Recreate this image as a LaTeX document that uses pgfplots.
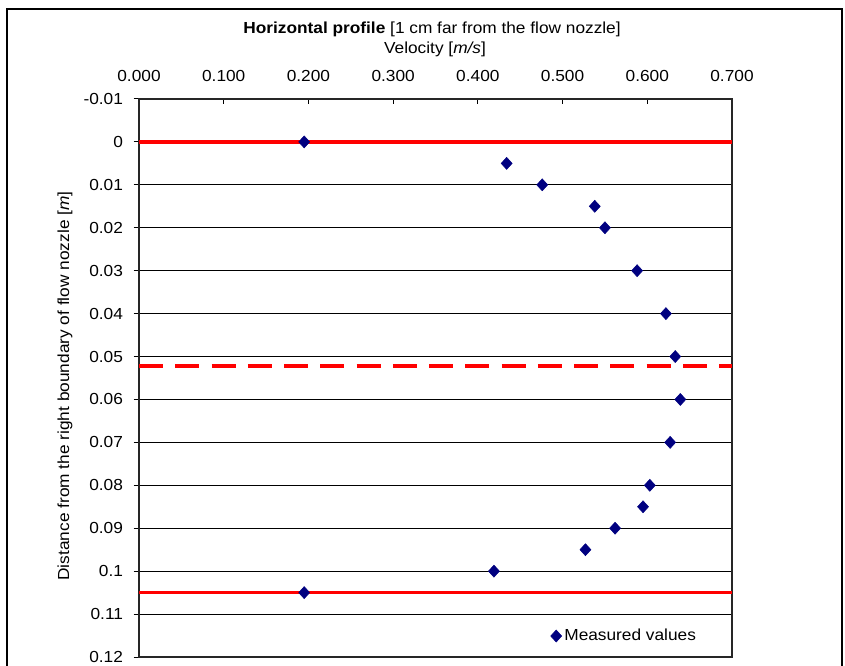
\documentclass[border=0pt]{standalone}
\usepackage{pgfplots}
\pgfplotsset{compat=1.18}
\usepackage{fontspec}
\setmainfont{Liberation Sans}[FakeStretch=1.08]
\definecolor{navy}{RGB}{0,0,128}
\definecolor{pred}{RGB}{255,0,0}
\newcommand{\lblfont}{\fontsize{12}{14}\selectfont}
\begin{document}
\begin{tikzpicture}
\useasboundingbox (0,0) rectangle (633.75pt,499.5pt);
\fill[white] (0,0) rectangle (633.75pt,499.5pt);
\draw[line width=0.8pt] (5.25pt,-20pt) rectangle (631.5pt,492.75pt);
\node[font=\lblfont] at (324pt,477.75pt) {\textbf{Horizontal profile} [1 cm far from the flow nozzle]};
\node[font=\lblfont] at (326.25pt,462.75pt) {Velocity [\textit{m/s}]};
\node[font=\lblfont, rotate=90] at (48.75pt,210pt) {Distance from the right boundary of flow nozzle [\textit{m}]};
\begin{axis}[
  at={(104.25pt,6.75pt)}, anchor=south west,
  scale only axis, width=444.75pt, height=418.5pt,
  xmin=0, xmax=0.7, ymin=-0.01, ymax=0.12, y dir=reverse,
  xtick={0,0.1,0.2,0.3,0.4,0.5,0.6,0.7},
  xticklabels={0.000,0.100,0.200,0.300,0.400,0.500,0.600,0.700},
  ytick={-0.01,0,0.01,0.02,0.03,0.04,0.05,0.06,0.07,0.08,0.09,0.1,0.11,0.12},
  yticklabels={-0.01,0,0.01,0.02,0.03,0.04,0.05,0.06,0.07,0.08,0.09,0.1,0.11,0.12},
  xtick pos=right, xticklabel pos=right,
  ytick pos=left,
  xtick align=inside, ytick align=outside,
  major tick length=4pt,
  tick style={black, line width=0.75pt},
  ymajorgrids,
  major grid style={black, line width=0.6pt},
  axis line style={line width=1pt, black!85},
  tick label style={font=\lblfont},
  xticklabel style={yshift=9.5pt},
  yticklabel style={xshift=-4.5pt},
  legend style={at={(0.819,0.0376)}, anchor=center, draw=none, fill=none, font=\lblfont, inner sep=0pt},
  legend cell align=left,
]
\addplot[pred, line width=2.4pt, forget plot] coordinates {(0,0) (0.7,0)};
\addplot[pred, line width=2.4pt, forget plot] coordinates {(0,0.105) (0.7,0.105)};
\addplot[pred, line width=2.9pt, dash pattern=on 18pt off 9.2pt, forget plot] coordinates {(0,0.0523) (0.7,0.0523)};
\addplot[only marks, mark=diamond*, mark size=4.5pt, mark options={fill=navy, draw=navy, xscale=1.22}] coordinates {
(0.195,0) (0.434,0.005) (0.476,0.01) (0.538,0.015) (0.550,0.02) (0.588,0.03)
(0.622,0.04) (0.633,0.05) (0.639,0.06) (0.627,0.07) (0.603,0.08) (0.595,0.085)
(0.562,0.09) (0.527,0.095) (0.419,0.1) (0.195,0.105)};
\legend{Measured values}
\end{axis}
\end{tikzpicture}
\end{document}
